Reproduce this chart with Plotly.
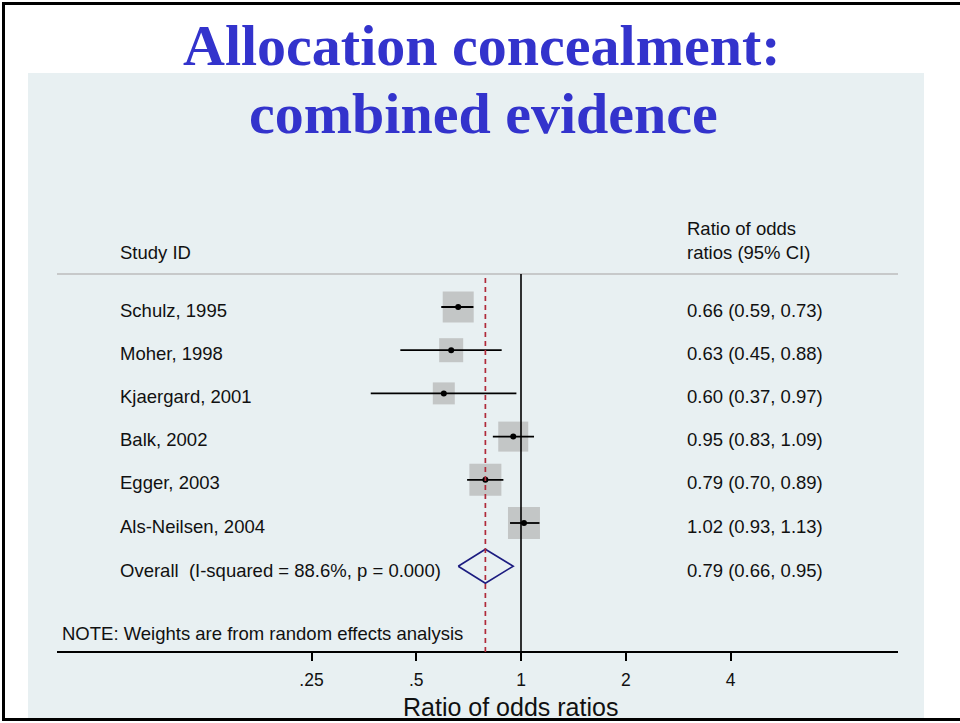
import math
import plotly.graph_objects as go

# ---- data -------------------------------------------------------------
studies = ["Schulz, 1995", "Moher, 1998", "Kjaergard, 2001", "Balk, 2002",
           "Egger, 2003", "Als-Neilsen, 2004"]
ror = [0.66, 0.63, 0.60, 0.95, 0.79, 1.02]
ci_low = [0.59, 0.45, 0.37, 0.83, 0.70, 0.93]
ci_high = [0.73, 0.88, 0.97, 1.09, 0.89, 1.13]
weights = [19.3, 11.6, 9.7, 18.1, 20.6, 20.6]   # random-effects weights (%)

overall_label = "Overall\u00a0\u00a0(I-squared = 88.6%, p = 0.000)"
overall_est, overall_low, overall_high = 0.79, 0.66, 0.95

tick_vals = [0.25, 0.5, 1, 2, 4]
tick_text = [".25", ".5", "1", "2", "4"]

# ---- page geometry (pixels) ------------------------------------------
W, H = 960, 723
X_ONE = 521.0            # pixel position of ratio = 1
PX_PER_DOUBLING = 104.75
ROW0_PX, ROW_STEP = 307.0, 43.2
AXIS_PX = 652.0
HEADER_PX = 274.0

def xp(px):
    return px / W

def yp(py):
    return 1 - py / H

px_per_log10 = PX_PER_DOUBLING / math.log10(2)
x_range = [-X_ONE / px_per_log10, (W - X_ONE) / px_per_log10]
y_range = [-(AXIS_PX - ROW0_PX) / ROW_STEP, ROW0_PX / ROW_STEP]

rows = [-i for i in range(len(studies))]
overall_row = -len(studies)

FONT = "Liberation Sans, Arial, sans-serif"
TITLE_FONT = "Liberation Serif, Times New Roman, serif"
BOX_COLOR = "#b4b4b4"
TEXT_SIZE = 18.5

fig = go.Figure()

# weight boxes
fig.add_trace(go.Scatter(
    x=ror, y=rows, mode="markers",
    marker=dict(symbol="square", size=[7.05 * math.sqrt(w) for w in weights],
                color=BOX_COLOR, line=dict(width=0)),
    hoverinfo="skip", showlegend=False))

# confidence intervals
ci_x, ci_y = [], []
for lo, hi, r in zip(ci_low, ci_high, rows):
    ci_x += [lo, hi, None]
    ci_y += [r, r, None]
fig.add_trace(go.Scatter(x=ci_x, y=ci_y, mode="lines",
                         line=dict(color="black", width=1.8),
                         hoverinfo="skip", showlegend=False))

# point estimates
fig.add_trace(go.Scatter(x=ror, y=rows, mode="markers",
                         marker=dict(symbol="circle", size=6, color="black"),
                         hoverinfo="skip", showlegend=False))

# pooled estimate diamond
half_h = 17.0 / ROW_STEP
fig.add_trace(go.Scatter(
    x=[overall_low, overall_est, overall_high, overall_est, overall_low],
    y=[overall_row, overall_row + half_h, overall_row, overall_row - half_h, overall_row],
    mode="lines", line=dict(color="#1c1c80", width=1.6),
    hoverinfo="skip", showlegend=False))

shapes = [
    # light panel
    dict(type="rect", xref="paper", yref="paper", x0=xp(28), x1=xp(924),
         y0=yp(720), y1=yp(73), fillcolor="#e8f0f2", line=dict(width=0), layer="below"),
    # header rule
    dict(type="line", xref="paper", yref="paper", x0=xp(57), x1=xp(898),
         y0=yp(HEADER_PX), y1=yp(HEADER_PX), line=dict(color="#bdbdbd", width=1.5)),
    # x axis line
    dict(type="line", xref="paper", yref="paper", x0=xp(57), x1=xp(898),
         y0=yp(AXIS_PX), y1=yp(AXIS_PX), line=dict(color="black", width=2)),
    # line of no effect
    dict(type="line", xref="x", yref="paper", x0=1, x1=1,
         y0=yp(AXIS_PX), y1=yp(HEADER_PX), line=dict(color="black", width=1.6)),
    # pooled estimate reference
    dict(type="line", xref="x", yref="paper", x0=overall_est, x1=overall_est,
         y0=yp(AXIS_PX), y1=yp(HEADER_PX),
         line=dict(color="#b02a3a", width=1.7, dash="5px,4px")),
    # frame
    dict(type="line", xref="paper", yref="paper", x0=xp(3.5), x1=xp(3.5),
         y0=yp(721), y1=yp(2), line=dict(color="black", width=3)),
    dict(type="line", xref="paper", yref="paper", x0=xp(2), x1=1,
         y0=yp(3.5), y1=yp(3.5), line=dict(color="black", width=3)),
    dict(type="line", xref="paper", yref="paper", x0=xp(2), x1=1,
         y0=yp(719.5), y1=yp(719.5), line=dict(color="black", width=3)),
]

ann = []

def text(x, y, s, size=TEXT_SIZE, xanchor="left", yref="paper", color="#111111",
         family=FONT, yshift=0, xshift=-2, bold=False):
    ann.append(dict(x=x, y=y, xref="paper", yref=yref, text=(f"<b>{s}</b>" if bold else s),
                    showarrow=False, xanchor=xanchor, yanchor="middle",
                    xshift=xshift, yshift=yshift,
                    font=dict(family=family, size=size, color=color)))

# titles
text(0.5 + 2 / W, yp(45), "Allocation concealment:", size=58, xanchor="center",
     color="#3333cc", family=TITLE_FONT, bold=True, xshift=0)
text(0.5 + 3 / W, yp(113), "combined evidence", size=58, xanchor="center",
     color="#3333cc", family=TITLE_FONT, bold=True, xshift=0)

# column headers
text(xp(120), yp(253), "Study ID")
text(xp(687), yp(228), "Ratio of odds")
text(xp(687), yp(253), "ratios (95% CI)")

# rows
for name, est, lo, hi, r in zip(studies, ror, ci_low, ci_high, rows):
    text(xp(120), r, name, yref="y", yshift=-3)
    text(xp(687), r, f"{est:.2f} ({lo:.2f}, {hi:.2f})", yref="y", yshift=-3)
text(xp(120), overall_row, overall_label, yref="y", yshift=-4)
text(xp(687), overall_row,
     f"{overall_est:.2f} ({overall_low:.2f}, {overall_high:.2f})", yref="y", yshift=-4)

text(xp(62), yp(633), "NOTE: Weights are from random effects analysis", size=TEXT_SIZE)
text(xp(510), yp(707), "Ratio of odds ratios", size=25, xanchor="center", xshift=0)

fig.update_layout(
    width=W, height=H,
    margin=dict(l=0, r=0, t=0, b=0),
    paper_bgcolor="white", plot_bgcolor="rgba(0,0,0,0)",
    shapes=shapes, annotations=ann,
    xaxis=dict(type="log", range=x_range, domain=[0, 1],
               tickvals=tick_vals, ticktext=tick_text,
               ticks="outside", ticklen=8, tickwidth=1.5, tickcolor="black",
               tickfont=dict(family=FONT, size=17.5, color="#111111"),
               ticklabelstandoff=4,
               showline=False, showgrid=False, zeroline=False, fixedrange=True),
    yaxis=dict(range=y_range, domain=[1 - AXIS_PX / H, 1], visible=False,
               fixedrange=True),
    showlegend=False,
)

fig.write_html("out.html")
